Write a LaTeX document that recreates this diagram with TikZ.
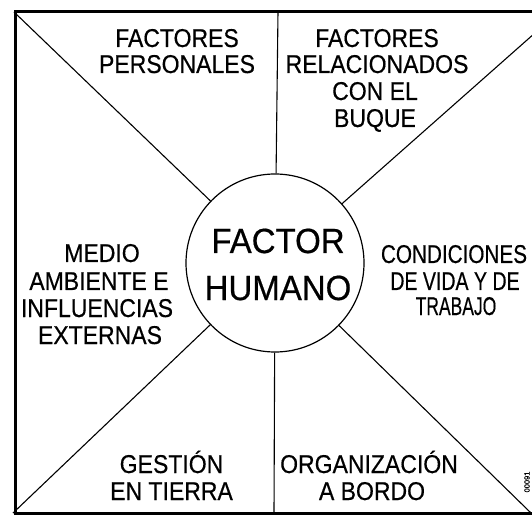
\documentclass[tikz,border=0pt]{standalone}
\usepackage{fontspec}
\setmainfont{Liberation Sans}[FakeBold=0.5]
\usepackage{graphicx}
\newcommand\sqz[2]{\scalebox{#1}[1.12]{#2}}
\newcommand\sqzb[1]{\scalebox{1}[1.06]{#1}}
\begin{document}
\begin{tikzpicture}[x=1pt,y=1pt,
  lbl/.style={anchor=base, inner sep=0pt, font=\fontsize{23}{27}\selectfont},
  big/.style={anchor=base, inner sep=0pt, font=\fontsize{33}{40}\selectfont},
  frame/.style={line width=3pt},
  spoke/.style={line width=1.1pt},
  hub/.style={circle, draw, line width=1.2pt, minimum size=178pt, inner sep=0pt}]
\useasboundingbox (0,0) rectangle (532,517);
\clip (0,0) rectangle (532,517);
\fill[white] (0,0) rectangle (532,517);
% frame
\draw[frame] (540,505.5) -- (15,505.5) -- (15,3.5) -- (540,3.5);
% hub
\node[hub] (h) at (275,254) {};
% corner and edge coordinates
\coordinate (tl) at (14,505);
\coordinate (bl) at (13,4);
\coordinate (tr) at (544,492);
\coordinate (br) at (531,4);
\coordinate (vt) at (278,505.5);
\coordinate (vb) at (274,3.5);
\draw[spoke] (tl) -- (h);
\draw[spoke] (bl) -- (h);
\draw[spoke] (tr) -- (h);
\draw[spoke] (br) -- (h);
\draw[spoke] (vt) -- (h);
\draw[spoke] (vb) -- (h);
% centre text
\node[big] (fh1) at (278,264) {\sqzb{FACTOR}};
\node[big] (fh2) at (278,217) {\sqzb{HUMANO}};
% top left
\node[lbl] (g1a) at (177,470) {\sqz{1}{FACTORES}};
\node[lbl] (g1b) at (177,444) {\sqz{1}{PERSONALES}};
% top right
\node[lbl] (g2a) at (377,470) {\sqz{1}{FACTORES}};
\node[lbl] (g2b) at (377,444) {\sqz{1}{RELACIONADOS}};
\node[lbl] (g2c) at (375,417) {\sqz{1}{CON EL}};
\node[lbl] (g2d) at (375,390) {\sqz{1}{BUQUE}};
% left
\node[lbl] (g3a) at (102,255) {\sqz{1}{MEDIO}};
\node[lbl] (g3b) at (99,227) {\sqz{1}{AMBIENTE E}};
\node[lbl] (g3c) at (97,200) {\sqz{1}{INFLUENCIAS}};
\node[lbl] (g3d) at (100,173) {\sqz{1}{EXTERNAS}};
% right
\node[lbl] (g4a) at (454,254) {\sqz{0.9}{CONDICIONES}};
\node[lbl] (g4b) at (455,227) {\sqz{0.85}{DE VIDA Y DE}};
\node[lbl] (g4c) at (456,202) {\sqz{0.76}{TRABAJO}};
% bottom
\node[lbl] (g5a) at (171.5,44) {\sqz{1}{GESTIÓN}};
\node[lbl] (g5b) at (171.5,17) {\sqz{1}{EN TIERRA}};
\node[lbl] (g6a) at (369,44) {\sqz{1}{ORGANIZACIÓN}};
\node[lbl] (g6b) at (372,17) {\sqz{1}{A BORDO}};
% stamp
\node[rotate=90, inner sep=0pt, font=\fontsize{7.5}{7.5}\selectfont] (stamp) at (527,35) {00091};
\end{tikzpicture}
\end{document}
